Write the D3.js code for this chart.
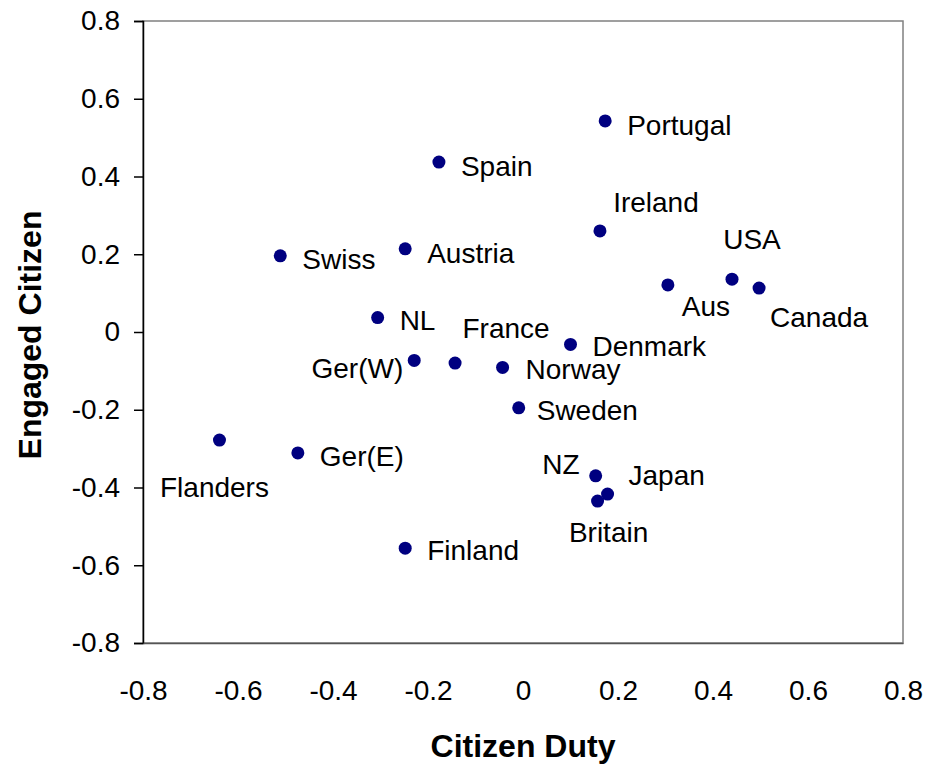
<!DOCTYPE html>
<html>
<head>
<meta charset="utf-8">
<script src="https://cdn.jsdelivr.net/npm/d3@7"></script>
<style>
	body { margin: 0; background: #fff; }
	text { font-family: Arial, "Liberation Sans", sans-serif; fill: #000; }
</style>
</head>
<body>
<div id="chart"></div>
<script>
// data
const countries = ["Portugal", "Spain", "Ireland", "Swiss", "Austria", "USA", "Aus", "Canada", "NL", "Denmark",
	"Ger(W)", "France", "Norway", "Sweden", "Flanders", "Ger(E)", "NZ", "Japan", "Britain", "Finland"];
const citizenDuty = [0.173, -0.177, 0.162, -0.511, -0.248, 0.44, 0.305, 0.497, -0.306, 0.1,
	-0.229, -0.143, -0.043, -0.009, -0.639, -0.474, 0.153, 0.178, 0.157, -0.248];
const engagedCitizen = [0.543, 0.437, 0.26, 0.196, 0.214, 0.136, 0.121, 0.113, 0.037, -0.032,
	-0.073, -0.08, -0.091, -0.195, -0.278, -0.311, -0.37, -0.417, -0.435, -0.556];
const xTicks = [-0.8, -0.6, -0.4, -0.2, 0, 0.2, 0.4, 0.6, 0.8];
const yTicks = [-0.8, -0.6, -0.4, -0.2, 0, 0.2, 0.4, 0.6, 0.8];

// where each label sits relative to its point: [dx, dy, anchor]
const labelPlace = {
	"Portugal": [22, 14, "start"], "Spain": [22, 14, "start"], "Ireland": [56, -19, "middle"],
	"Swiss": [22, 13, "start"], "Austria": [22, 14, "start"], "USA": [20, -30, "middle"],
	"Aus": [38, 31, "middle"], "Canada": [60, 39, "middle"], "NL": [22, 12, "start"],
	"Denmark": [22, 12, "start"], "Ger(W)": [-11, 18, "end"], "France": [51, -25, "middle"],
	"Norway": [23, 12, "start"], "Sweden": [18, 12, "start"], "Flanders": [-5, 57, "middle"],
	"Ger(E)": [22, 13, "start"], "NZ": [-16, -2, "end"], "Japan": [21, -9, "start"],
	"Britain": [11, 41, "middle"], "Finland": [22, 12, "start"]
};

const width = 927, height = 766;
const plot = { left: 143, right: 903, top: 21, bottom: 643 };
const fmt = (d) => d === 0 ? "0" : d.toFixed(1);

const svg = d3.select("#chart")
	.append("svg")
	.attr("width", width)
	.attr("height", height);

const x = d3.scaleLinear().domain([-0.8, 0.8]).range([plot.left, plot.right]);
const y = d3.scaleLinear().domain([-0.8, 0.8]).range([plot.bottom, plot.top]);

// plot frame
svg.append("rect")
	.attr("x", plot.left)
	.attr("y", plot.top)
	.attr("width", plot.right - plot.left)
	.attr("height", plot.bottom - plot.top)
	.attr("fill", "none")
	.attr("stroke", "#808080")
	.attr("stroke-width", 1.5);

// y axis
const yAxis = svg.append("g")
	.attr("transform", `translate(${plot.left},0)`)
	.call(d3.axisLeft(y).tickValues(yTicks).tickSize(9).tickPadding(14).tickFormat(fmt));
yAxis.select(".domain").attr("stroke", "#000").attr("stroke-width", 1.5);
yAxis.selectAll(".tick line").attr("stroke", "#000").attr("stroke-width", 1.5);
yAxis.selectAll("text").attr("font-size", 28).attr("font-family", "Arial, 'Liberation Sans', sans-serif").attr("fill", "#000");

// x axis (no tick marks)
const xAxis = svg.append("g")
	.attr("transform", `translate(0,${plot.bottom})`)
	.call(d3.axisBottom(x).tickValues(xTicks).tickSize(0).tickPadding(37).tickFormat(fmt));
xAxis.select(".domain").attr("stroke", "#555").attr("stroke-width", 1.5);
xAxis.selectAll("text").attr("font-size", 28).attr("font-family", "Arial, 'Liberation Sans', sans-serif").attr("fill", "#000");

// axis titles
svg.append("text")
	.attr("x", 523)
	.attr("y", 757)
	.attr("text-anchor", "middle")
	.attr("font-size", 32)
	.attr("font-weight", "bold")
	.text("Citizen Duty");

svg.append("text")
	.attr("transform", "translate(41,335) rotate(-90)")
	.attr("text-anchor", "middle")
	.attr("font-size", 32)
	.attr("font-weight", "bold")
	.text("Engaged Citizen");

// points
const rows = countries.map((c, i) => ({ name: c, duty: citizenDuty[i], engaged: engagedCitizen[i] }));

svg.append("g")
	.selectAll("circle")
	.data(rows)
	.enter()
	.append("circle")
	.attr("cx", (d) => x(d.duty))
	.attr("cy", (d) => y(d.engaged))
	.attr("r", 6.5)
	.attr("fill", "#000080");

// labels
svg.append("g")
	.selectAll("text")
	.data(rows)
	.enter()
	.append("text")
	.attr("x", (d) => x(d.duty) + labelPlace[d.name][0])
	.attr("y", (d) => y(d.engaged) + labelPlace[d.name][1])
	.attr("text-anchor", (d) => labelPlace[d.name][2])
	.attr("font-size", 28)
	.text((d) => d.name);
</script>
</body>
</html>
